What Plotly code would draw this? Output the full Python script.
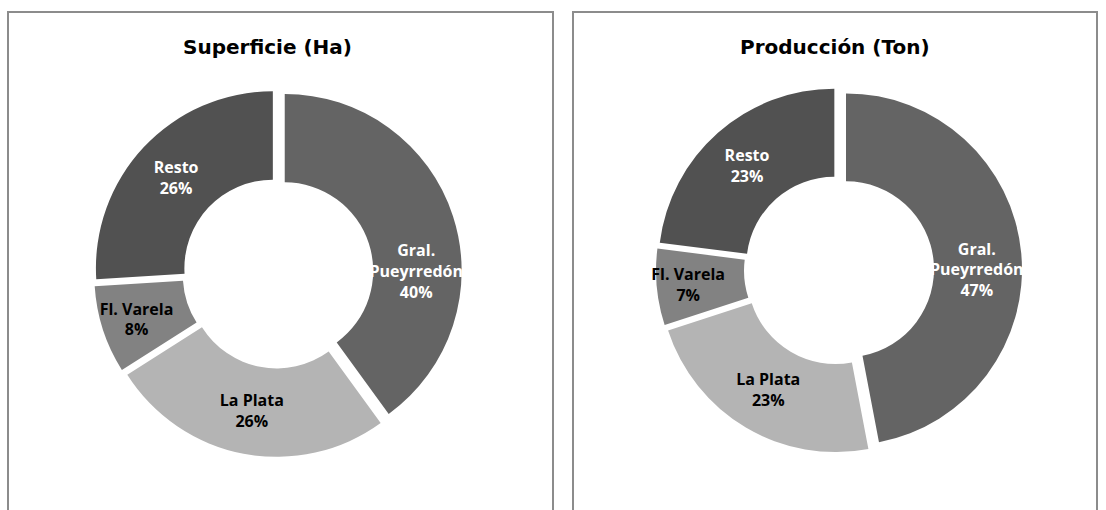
import plotly.graph_objects as go

labels = ["Gral.<br>Pueyrredón", "La Plata", "Fl. Varela", "Resto"]
superficie = [40, 26, 8, 26]
produccion = [47, 23, 7, 23]
titles = ["Superficie (Ha)", "Producción (Ton)"]

colors = ["#646464", "#b4b4b4", "#828282", "#515151"]
text_colors = ["white", "black", "black", "white"]

W, H = 1106, 510
FONT = "DejaVu Sans"
LABEL_FONT = "Open Sans"

def px_dom(x0, x1, y0, y1):
    return dict(x=[x0 / W, x1 / W], y=[1 - y1 / H, 1 - y0 / H])

fig = go.Figure()
for vals, dom in [(superficie, px_dom(94, 462, 89, 457)),
                  (produccion, px_dom(655, 1023, 87, 453))]:
    fig.add_trace(go.Pie(
        labels=labels, values=vals, sort=False, direction="clockwise",
        hole=0.5, pull=[0.04] * 4, domain=dom,
        marker=dict(colors=colors, line=dict(width=0)),
        texttemplate="<b>%{label}<br>%{percent:.0%}</b>",
        textposition="inside", insidetextorientation="horizontal",
        insidetextfont=dict(family=LABEL_FONT, size=16, color=text_colors),
        hoverinfo="label+percent", showlegend=False,
    ))

shapes = []
for x0, x1 in [(8, 553), (573, 1097)]:
    shapes.append(dict(type="rect", xref="paper", yref="paper",
                       x0=x0 / W, x1=x1 / W, y0=-0.1, y1=1 - 12 / H,
                       line=dict(color="#8c8c8c", width=2), fillcolor="rgba(0,0,0,0)"))

annotations = []
for t, cx in zip(titles, [267, 835]):
    annotations.append(dict(text="<b>" + t + "</b>", x=cx / W, y=1 - 47 / H,
                            xref="paper", yref="paper", showarrow=False,
                            xanchor="center", yanchor="middle",
                            font=dict(family=FONT, size=20, color="black")))

fig.update_layout(
    width=W, height=H, margin=dict(l=0, r=0, t=0, b=0),
    paper_bgcolor="white", plot_bgcolor="white",
    shapes=shapes, annotations=annotations,
    uniformtext=dict(minsize=16, mode="show"),
    font=dict(family=FONT),
)
fig.write_html("out.html", config={"displayModeBar": False},
               post_script="document.body.style.margin='0px';document.body.style.overflow='hidden';")
